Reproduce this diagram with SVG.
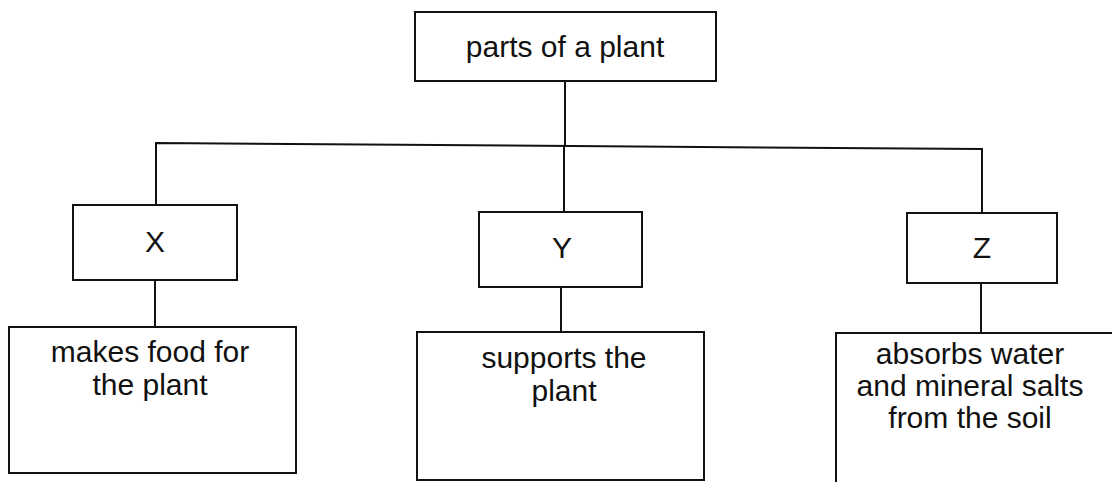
<svg xmlns="http://www.w3.org/2000/svg" width="1112" height="482" viewBox="0 0 1112 482">
<style>
.box{fill:#fff;stroke:#111;stroke-width:2}
.ln{stroke:#111;stroke-width:2;fill:none}
text{font-family:"Liberation Sans",Arial,sans-serif;font-size:30px;fill:#111;text-anchor:middle}
</style>
<rect width="1112" height="482" fill="#fff"/>
<g id="connectors">
<line class="ln" x1="565" y1="81" x2="565" y2="146"/>
<polyline class="ln" points="156,205 156,143 982,149 982,213"/>
<line class="ln" x1="564" y1="146" x2="564" y2="212"/>
<line class="ln" x1="155" y1="280" x2="155" y2="327"/>
<line class="ln" x1="561" y1="287" x2="561" y2="332"/>
<line class="ln" x1="981" y1="283" x2="981" y2="333"/>
</g>
<g id="root">
<rect class="box" x="415" y="12" width="301" height="69"/>
<text x="565" y="57">parts of a plant</text>
</g>
<g id="X">
<rect class="box" x="73" y="205" width="164" height="75"/>
<text x="155" y="252">X</text>
</g>
<g id="Y">
<rect class="box" x="479" y="212" width="163" height="75"/>
<text x="562" y="258">Y</text>
</g>
<g id="Z">
<rect class="box" x="907" y="213" width="150" height="70"/>
<text x="982" y="258">Z</text>
</g>
<g id="X-desc">
<rect class="box" x="9" y="327" width="287" height="146"/>
<text x="150" y="362">makes food for</text>
<text x="150" y="395">the plant</text>
</g>
<g id="Y-desc">
<rect class="box" x="417" y="332" width="287" height="148"/>
<text x="564" y="368">supports the</text>
<text x="564" y="401">plant</text>
</g>
<g id="Z-desc">
<polyline class="ln" points="836,490 836,333 1120,333"/>
<text x="970" y="364">absorbs water</text>
<text x="970" y="396">and mineral salts</text>
<text x="970" y="428">from the soil</text>
</g>
</svg>
